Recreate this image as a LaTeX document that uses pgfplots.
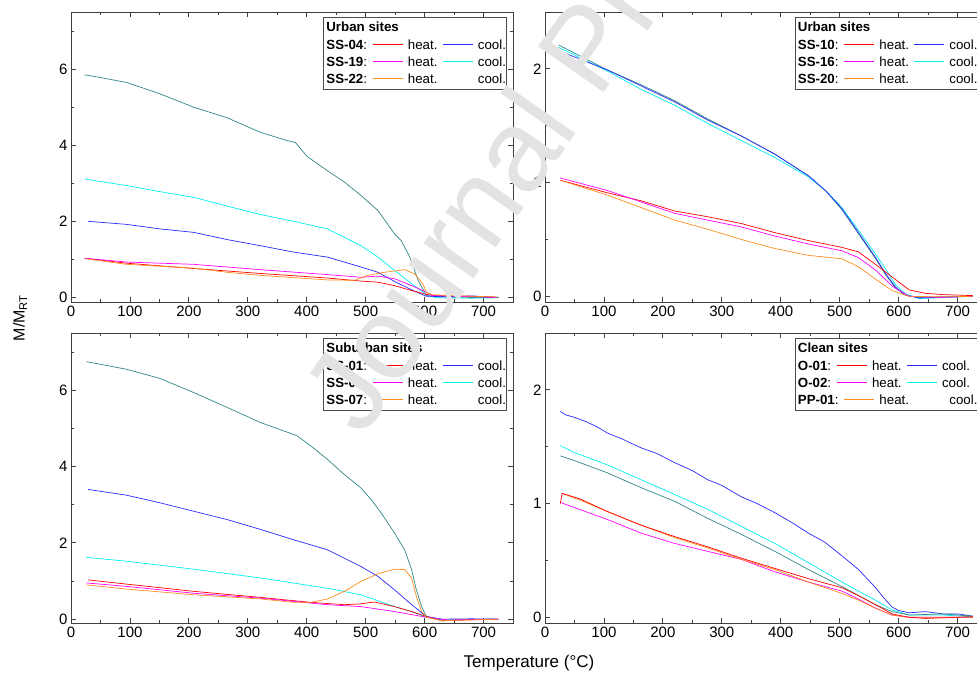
\documentclass[border=0pt]{standalone}
\usepackage{pgfplots}
\pgfplotsset{compat=1.18}
\usepackage{fontspec}
\setmainfont{Liberation Sans}
\definecolor{cred}{RGB}{255,0,0}
\definecolor{cblue}{RGB}{40,40,255}
\definecolor{cmag}{RGB}{255,0,255}
\definecolor{ccyan}{RGB}{0,238,238}
\definecolor{corange}{RGB}{255,140,30}
\definecolor{cteal}{RGB}{50,135,135}
\tikzset{legtxt/.style={anchor=base west, inner sep=0pt, font=\fontsize{13.3}{16}\selectfont}}
\newcommand{\legrow}[4]{%
  \node[legtxt] (L) at #1 {\textbf{#2}:};
  \path ([xshift=5.5pt]L.base east) coordinate (S1);
  \node[legtxt] (H) at ([xshift=35pt]S1) {heat.};
  \path ([xshift=5pt]H.base east) coordinate (S2);
  \node[legtxt] at ([xshift=35pt]S2) {cool.};
  \draw[#3, line width=1pt] ([yshift=5pt]S1) -- ++(30pt,0pt);
  \draw[#4, line width=1pt] ([yshift=5pt]S2) -- ++(30pt,0pt);
}
\newcommand{\mylegend}[6]{%
  \begin{scope}[shift={([xshift=-189.5pt+#6,yshift=-5pt]#1.north east)}]
    \filldraw[color=black!70, fill=white, line width=0.6pt] (0pt,0pt) rectangle (183pt,-72pt);
    \node[legtxt] at (2.7pt,-14.5pt) {\textbf{#2}};
    \legrow{(2.7pt,-32.5pt)}{#3}{cred}{cblue}
    \legrow{(2.7pt,-49.5pt)}{#4}{cmag}{ccyan}
    \legrow{(2.7pt,-66.5pt)}{#5}{corange}{draw=none}
  \end{scope}}
\pgfplotsset{
  panel/.style={
    scale only axis, width=442pt, height=290pt, anchor=south west,
    xmin=0, xmax=750,
    xtick={0,100,...,700}, minor xtick={50,150,...,750},
    tick align=inside, tick pos=both,
    major tick length=5pt, minor tick length=3pt,
    axis line style={black!75, line width=0.9pt},
    every tick/.style={black!75, line width=0.8pt},
    every tick label/.append style={font=\fontsize{15}{18}\selectfont},
    /pgf/number format/assume math mode=true,
    every axis plot/.append style={line width=0.7pt, no markers},
  },
  big/.style={ymin=-0.12, ymax=7.5, ytick={0,2,4,6}, minor ytick={1,3,5,7}},
  small/.style={ymin=-0.05, ymax=2.5, ytick={0,1,2}, minor ytick={0.5,1.5,2.5}},
}
\begin{document}
\begin{tikzpicture}
\useasboundingbox (0pt,0pt) rectangle (977pt,675pt);
% ---------------- Panel 1
\begin{axis}[panel, big, name=p1, at={(71pt,373pt)}]
\addplot[cteal] coordinates {(23,5.85) (49,5.78) (94,5.65) (151,5.35) (208,5.00) (265,4.72) (321,4.34) (367,4.12) (381,4.07) (390,3.90) (401,3.70) (435,3.33) (464,3.03) (492,2.68) (521,2.28) (549,1.67) (560,1.50) (575,1.06) (589,0.45) (603,0.05) (620,0.01) (680,0.00) (725,0.00)};
\addplot[ccyan] coordinates {(23,3.11) (94,2.94) (151,2.78) (208,2.63) (265,2.40) (321,2.18) (378,2.00) (435,1.80) (464,1.58) (492,1.36) (521,1.06) (549,0.71) (578,0.36) (603,0.08) (620,-0.01) (680,-0.02) (725,-0.01)};
\addplot[cblue] coordinates {(29,2.00) (94,1.92) (151,1.80) (208,1.71) (265,1.52) (321,1.36) (378,1.19) (435,1.06) (492,0.80) (521,0.66) (549,0.42) (578,0.20) (603,0.03) (640,0.02) (680,0.04) (725,0.00)};
\addplot[cred] coordinates {(23,1.03) (94,0.90) (208,0.76) (321,0.63) (435,0.51) (492,0.43) (521,0.40) (549,0.31) (578,0.18) (603,0.08) (617,0.05) (680,0.03) (720,0.01)};
\addplot[cmag] coordinates {(23,1.03) (94,0.93) (208,0.87) (321,0.73) (435,0.60) (492,0.53) (521,0.56) (549,0.49) (578,0.31) (603,0.14) (612,0.05) (680,0.02) (720,0.00)};
\addplot[corange] coordinates {(23,1.02) (94,0.87) (208,0.77) (265,0.66) (321,0.58) (435,0.46) (481,0.45) (504,0.58) (527,0.65) (566,0.73) (583,0.62) (597,0.36) (603,0.14) (612,0.07) (663,0.04) (725,0.01)};
\end{axis}
% ---------------- Panel 2
\begin{axis}[panel, small, name=p2, at={(545pt,373pt)}]
\addplot[cteal] coordinates {(23,2.21) (106,1.99) (163,1.86) (220,1.72) (276,1.56) (333,1.41) (390,1.25) (447,1.06) (476,0.93) (504,0.76) (532,0.55) (561,0.33) (578,0.19) (595,0.07) (612,0.01) (635,-0.01) (726,0.00)};
\addplot[ccyan] coordinates {(23,2.19) (106,1.98) (163,1.82) (220,1.68) (276,1.52) (333,1.37) (390,1.22) (447,1.05) (476,0.93) (504,0.78) (532,0.58) (561,0.37) (578,0.24) (595,0.10) (612,0.02) (635,-0.02) (680,-0.01) (726,0.00)};
\addplot[cblue] coordinates {(23,2.16) (106,1.99) (163,1.85) (220,1.71) (276,1.55) (333,1.41) (390,1.25) (447,1.06) (476,0.93) (504,0.77) (532,0.56) (561,0.34) (578,0.20) (595,0.08) (612,0.01) (635,-0.015) (680,-0.005) (726,0.00)};
\addplot[cred] coordinates {(26,1.02) (106,0.91) (163,0.84) (220,0.75) (276,0.70) (333,0.64) (390,0.56) (447,0.49) (504,0.43) (532,0.39) (561,0.28) (589,0.17) (618,0.056) (646,0.026) (675,0.015) (726,0.006)};
\addplot[cmag] coordinates {(26,1.04) (106,0.93) (163,0.83) (220,0.73) (276,0.67) (333,0.61) (390,0.53) (447,0.46) (504,0.40) (532,0.34) (561,0.23) (589,0.09) (618,0.00) (675,-0.01) (726,0.00)};
\addplot[corange] coordinates {(26,1.02) (106,0.89) (163,0.78) (220,0.67) (276,0.59) (333,0.50) (390,0.42) (447,0.36) (504,0.33) (532,0.26) (561,0.15) (589,0.05) (618,0.00) (675,-0.005) (726,0.00)};
\end{axis}
% ---------------- Panel 3
\begin{axis}[panel, big, ymin=-0.1, name=p3, at={(71pt,52pt)}]
\addplot[cteal] coordinates {(26,6.75) (94,6.55) (151,6.31) (208,5.94) (265,5.55) (322,5.15) (378,4.84) (384,4.80) (407,4.54) (435,4.19) (464,3.79) (492,3.44) (509,3.14) (526,2.79) (549,2.26) (566,1.82) (578,1.30) (586,0.77) (595,0.33) (603,0.07) (630,-0.02) (725,0.00)};
\addplot[cblue] coordinates {(29,3.40) (94,3.25) (151,3.05) (208,2.83) (265,2.61) (322,2.35) (378,2.08) (435,1.82) (492,1.38) (521,1.12) (549,0.77) (578,0.38) (603,0.07) (630,0.00) (680,0.01) (725,0.00)};
\addplot[ccyan] coordinates {(26,1.62) (94,1.52) (208,1.31) (322,1.08) (435,0.81) (492,0.64) (549,0.33) (578,0.20) (603,0.05) (630,-0.02) (725,0.00)};
\addplot[cred] coordinates {(29,1.03) (94,0.92) (208,0.73) (322,0.57) (407,0.44) (464,0.38) (490,0.40) (515,0.45) (549,0.33) (578,0.20) (603,0.07) (629,-0.04) (663,-0.02) (725,0.00)};
\addplot[cmag] coordinates {(26,0.95) (94,0.86) (208,0.68) (322,0.55) (435,0.38) (492,0.33) (549,0.20) (603,0.05) (640,-0.02) (725,0.00)};
\addplot[corange] coordinates {(26,0.90) (94,0.79) (208,0.64) (322,0.53) (378,0.44) (407,0.44) (435,0.53) (464,0.73) (492,0.99) (521,1.19) (549,1.31) (566,1.30) (578,1.08) (586,0.60) (595,0.20) (603,0.05) (629,-0.04) (725,0.00)};
\end{axis}
% ---------------- Panel 4
\begin{axis}[panel, small, name=p4, at={(545pt,52pt)}]
\addplot[cblue] coordinates {(26,1.81) (35,1.78) (49,1.76) (70,1.72) (90,1.67) (106,1.62) (130,1.57) (163,1.49) (190,1.44) (220,1.36) (250,1.29) (276,1.21) (300,1.16) (333,1.06) (360,1.00) (390,0.92) (420,0.83) (447,0.74) (475,0.66) (504,0.54) (532,0.42) (561,0.26) (575,0.17) (589,0.09) (600,0.06) (618,0.04) (646,0.05) (675,0.03) (700,0.03) (726,0.01)};
\addplot[ccyan] coordinates {(26,1.51) (49,1.45) (106,1.34) (163,1.21) (220,1.08) (276,0.95) (333,0.80) (390,0.65) (447,0.48) (504,0.31) (532,0.23) (561,0.15) (589,0.065) (618,0.02) (675,0.02) (726,0.005)};
\addplot[cteal] coordinates {(26,1.42) (49,1.38) (106,1.27) (163,1.14) (220,1.02) (276,0.87) (333,0.73) (390,0.58) (447,0.42) (504,0.27) (561,0.11) (589,0.05) (618,0.02) (675,0.03) (726,0.01)};
\addplot[cmag] coordinates {(26,1.01) (106,0.86) (163,0.74) (220,0.65) (276,0.58) (333,0.51) (390,0.40) (447,0.31) (504,0.23) (532,0.16) (561,0.08) (589,0.02) (618,0.00) (726,0.00)};
\addplot[corange] coordinates {(29,1.09) (60,1.03) (106,0.93) (163,0.81) (220,0.70) (276,0.61) (333,0.51) (390,0.42) (447,0.31) (504,0.21) (532,0.15) (561,0.08) (589,0.02) (618,0.00) (726,0.00)};
\addplot[cred] coordinates {(26,1.00) (29,1.09) (60,1.04) (106,0.93) (163,0.81) (220,0.71) (276,0.62) (333,0.52) (390,0.43) (447,0.34) (504,0.26) (532,0.19) (561,0.11) (589,0.03) (618,0.00) (646,-0.01) (726,0.005)};
\end{axis}
% ---------------- legends
\mylegend{p1}{Urban sites}{SS-04}{SS-19}{SS-22}{0pt}
\mylegend{p2}{Urban sites}{SS-10}{SS-16}{SS-20}{-2.5pt}
\mylegend{p3}{Suburban sites}{SS-01}{SS-02}{SS-07}{0pt}
\mylegend{p4}{Clean sites}{O-01}{O-02}{PP-01}{-2.5pt}
% ---------------- labels
\node[rotate=90, font=\fontsize{16}{16}\selectfont] at (20pt,357pt) {M/M\textsubscript{RT}};
\node[font=\fontsize{17}{17}\selectfont] at (529pt,12pt) {Temperature (°C)};
% ---------------- watermark
\node[rotate=55, anchor=base west, text=black!11, font=\fontsize{116}{116}\selectfont, inner sep=0pt] at (362pt,236pt) {Journal Pre-proof};
\end{tikzpicture}
\end{document}
